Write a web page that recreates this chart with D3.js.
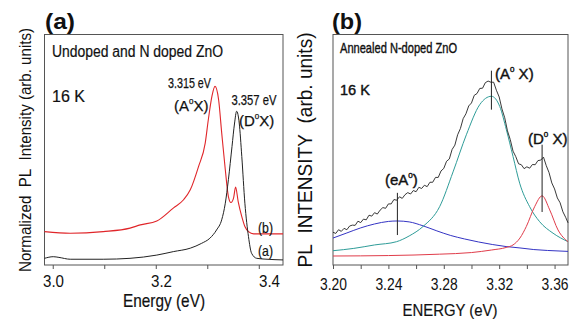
<!DOCTYPE html>
<html>
<head>
<meta charset="utf-8">
<script src="https://cdn.jsdelivr.net/npm/d3@7/dist/d3.min.js"></script>
<style>
  body { margin: 0; background: #fff; }
  svg { display: block; font-family: "Liberation Sans", Arial, sans-serif; }
</style>
</head>
<body>
<svg id="chart" width="577" height="322"></svg>
<script>
// ---- panel (a): undoped (a) and N doped (b) ZnO, 16 K ----
const energyUndoped = [2.984, 3.001, 3.012, 3.034, 3.098, 3.150, 3.202, 3.234, 3.267, 3.289, 3.305, 3.318,
  3.328, 3.335, 3.341, 3.348, 3.353, 3.357, 3.362, 3.367, 3.373, 3.380, 3.386, 3.396, 3.416, 3.447];
const intensityUndoped = [2.9, 3.6, 3.3, 2.5, 2.5, 2.9, 4.3, 5.8, 7.3, 9.4, 11.6, 15.2,
  19.6, 26.8, 37.0, 51.4, 61.6, 66.7, 61.6, 47.1, 26.8, 12.3, 5.1, 2.9, 2.5, 2.2];

const energyDoped = [2.984, 3.034, 3.098, 3.150, 3.170, 3.202, 3.234, 3.254, 3.267, 3.283, 3.296, 3.302,
  3.309, 3.315, 3.322, 3.328, 3.335, 3.341, 3.346, 3.351, 3.355, 3.360, 3.367, 3.373, 3.380, 3.390, 3.447];
const intensityDoped = [14.5, 13.8, 14.5, 16.0, 17.4, 19.1, 24.7, 28.3, 32.6, 42.7, 52.9, 63.0,
  73.2, 77.5, 71.7, 57.3, 41.3, 29.7, 27.1, 29.0, 33.8, 27.5, 21.0, 16.7, 14.5, 13.5, 13.5];

const ticksA = [3.0, 3.1, 3.2, 3.3, 3.4];
const tickLabelsA = [3.0, 3.2, 3.4];

// ---- panel (b): annealed N-doped ZnO, measured spectrum + fitted components ----
const energyMeasured = [3.200, 3.202, 3.204, 3.206, 3.208, 3.210, 3.212, 3.214, 3.216, 3.218,
  3.220, 3.222, 3.224, 3.226, 3.228, 3.230, 3.232, 3.234, 3.236, 3.238,
  3.240, 3.242, 3.244, 3.246, 3.248, 3.250, 3.252, 3.254, 3.256, 3.258,
  3.260, 3.262, 3.264, 3.266, 3.268, 3.270, 3.272, 3.274, 3.276, 3.278,
  3.280, 3.282, 3.284, 3.286, 3.288, 3.290, 3.292, 3.294, 3.296, 3.298,
  3.300, 3.302, 3.304, 3.306, 3.308, 3.310, 3.312, 3.314, 3.316, 3.318,
  3.320, 3.322, 3.324, 3.326, 3.328, 3.330, 3.332, 3.334, 3.336, 3.338,
  3.340, 3.342, 3.344, 3.346, 3.348, 3.350, 3.352, 3.354, 3.356, 3.358,
  3.360, 3.362, 3.364, 3.366, 3.368, 3.3697];
const intensityMeasured = [14.2, 13.7, 15.3, 14.6, 15.9, 15.3, 16.9, 17.3, 17.2, 19.0,
  18.4, 19.9, 19.6, 21.6, 21.2, 22.7, 22.1, 23.8, 24.9, 24.6,
  26.5, 26.5, 28.4, 28.1, 29.6, 28.9, 30.5, 31.4, 30.8, 32.3,
  31.8, 33.7, 33.2, 34.6, 34.0, 35.9, 35.9, 38.0, 38.0, 40.8,
  41.9, 45.0, 46.0, 50.1, 52.0, 56.5, 59.2, 63.5, 65.6, 69.0,
  70.3, 73.6, 74.4, 76.6, 76.7, 79.1, 79.8, 79.3, 79.3, 75.8,
  72.9, 67.7, 63.9, 58.2, 54.4, 49.4, 47.0, 43.9, 43.5, 41.8,
  42.6, 42.0, 43.6, 43.5, 45.3, 45.5, 46.8, 43.1, 40.1, 35.6,
  33.0, 29.1, 27.0, 23.1, 20.7, 18.3];

const energyEA = [3.200, 3.210, 3.220, 3.230, 3.240, 3.2465, 3.255, 3.265, 3.275, 3.285, 3.295, 3.305,
  3.315, 3.325, 3.335, 3.345, 3.355, 3.3697];
const intensityEA = [11.7, 13.9, 16.1, 17.8, 18.9, 19.1, 18.7, 17.0, 14.8, 12.8, 11.3, 10.0,
  8.9, 8.0, 7.4, 6.7, 6.3, 5.9];

const energyAX = [3.200, 3.215, 3.230, 3.2458, 3.255, 3.265, 3.277, 3.2867, 3.2963, 3.306, 3.3144, 3.3204,
  3.3252, 3.330, 3.3348, 3.342, 3.3492, 3.3589, 3.3697];
const intensityAX = [6.2, 7.2, 8.7, 10.1, 12.6, 16.7, 25.3, 40.4, 56.5, 69.6, 73.2, 68.8,
  58.7, 47.1, 35.5, 25.3, 18.8, 13.8, 10.1];

const energyDX = [3.200, 3.240, 3.277, 3.300, 3.3144, 3.325, 3.330, 3.335, 3.3396, 3.3456, 3.351, 3.3565,
  3.3625, 3.3697];
const intensityDX = [3.9, 4.1, 4.7, 5.4, 6.5, 7.6, 8.7, 11.7, 16.7, 25.3, 30.0, 23.9,
  15.2, 10.1];

const ticksB = [3.20, 3.22, 3.24, 3.26, 3.28, 3.30, 3.32, 3.34, 3.36];
const tickLabelsB = [3.20, 3.24, 3.28, 3.32, 3.36];

// peak markers in (b): energy, bottom, top (intensity units)
const markerEnergy = [3.2465, 3.3144, 3.351];
const markerLow = [13.0, 67.4, 23.0];
const markerHigh = [31.3, 84.3, 52.2];

const svg = d3.select('#chart');

function zip(xs, ys) {
  return xs.map((x, i) => [x, ys[i]]);
}

// text helper; html allows the small raised "0"
function label(x, y, html, size, len, opts = {}) {
  const t = svg.append('text')
    .attr('x', x)
    .attr('y', y)
    .attr('font-size', size)
    .attr('fill', '#111')
    .html(html);
  if (len) t.attr('textLength', len).attr('lengthAdjust', 'spacingAndGlyphs');
  if (opts.bold) t.attr('font-weight', 'bold');
  if (opts.anchor) t.attr('text-anchor', opts.anchor);
  if (opts.rotate) t.attr('transform', `rotate(-90,${x},${y})`);
  if (opts.thick) t.attr('stroke', '#111').attr('stroke-width', opts.thick);
  return t;
}

const sup = (s) => `<tspan dy="-7" font-size="8">${s}</tspan>`;
const unsup = (s) => `<tspan dy="7">${s}</tspan>`;

// ------------------------------------------------ panel (a)
const xA = d3.scaleLinear().domain([2.984, 3.447]).range([44.5, 283]);
const yA = d3.scaleLinear().domain([0, 100]).range([265, 34.5]);
// the printed tick numbers sit a little off the tick marks in the original
const xLabelA = d3.scaleLinear().domain([3.0, 3.4]).range([53, 269]);

const gA = svg.append('g');
gA.append('rect')
  .attr('x', 44.5).attr('y', 34.5)
  .attr('width', 283 - 44.5).attr('height', 265 - 34.5)
  .attr('fill', 'none').attr('stroke', '#555').attr('stroke-width', 1);

gA.append('g')
  .attr('transform', 'translate(0,265)')
  .call(d3.axisBottom(xA).tickValues(ticksA).tickSize(4).tickFormat(''))
  .call(g => g.select('.domain').remove())
  .call(g => g.selectAll('line').attr('stroke', '#555'));

gA.append('g')
  .attr('transform', 'translate(0,265)')
  .call(d3.axisBottom(xLabelA).tickValues(tickLabelsA).tickSize(0).tickPadding(10).tickFormat(d3.format('.1f')))
  .call(g => g.select('.domain').remove())
  .call(g => g.selectAll('text')
    .attr('font-size', 17)
    .attr('font-family', '"Liberation Sans", Arial, sans-serif')
    .attr('fill', '#111')
    .attr('textLength', 21)
    .attr('lengthAdjust', 'spacingAndGlyphs'));

const lineA = d3.line()
  .x(d => xA(d[0]))
  .y(d => yA(d[1]))
  .curve(d3.curveMonotoneX);

gA.append('path')
  .datum(zip(energyDoped, intensityDoped))
  .attr('d', lineA)
  .attr('fill', 'none')
  .attr('stroke', '#e0262a')
  .attr('stroke-width', 1.1);

gA.append('path')
  .datum(zip(energyUndoped, intensityUndoped))
  .attr('d', lineA)
  .attr('fill', 'none')
  .attr('stroke', '#222')
  .attr('stroke-width', 1);

label(45, 29, '(a)', 22, 30, { bold: true });
label(52, 57, 'Undoped and N doped ZnO', 16, 171, { thick: 0.2 });
label(52, 102, '16 K', 16, 33, { thick: 0.2 });
label(168, 88, '3.315 eV', 15, 43, { thick: 0.25 });
label(174, 111, '(A' + sup('0') + unsup('X)'), 15, null, { thick: 0.25 });
label(231.5, 105, '3.357 eV', 15, 45, { thick: 0.25 });
label(239, 126, '(D' + sup('0') + unsup('X)'), 15, null, { thick: 0.25 });
label(258, 233, '(b)', 15, 15, { thick: 0.2 });
label(258, 256, '(a)', 15, 15, { thick: 0.2 });
label(164, 307, 'Energy (eV)', 19, 82, { anchor: 'middle', thick: 0.2 });
label(31, 150, 'Normalized&#160;&#160;PL&#160;&#160;Intensity (arb. units)', 16, 244, { anchor: 'middle', rotate: true });

// ------------------------------------------------ panel (b)
const xB = d3.scaleLinear().domain([3.2, 3.3697]).range([333, 568]);
const yB = d3.scaleLinear().domain([0, 100]).range([265, 34.5]);

const gB = svg.append('g');
gB.append('rect')
  .attr('x', 333).attr('y', 34.5)
  .attr('width', 568 - 333).attr('height', 265 - 34.5)
  .attr('fill', 'none').attr('stroke', '#555').attr('stroke-width', 1);

gB.append('g')
  .attr('transform', 'translate(0,265)')
  .call(d3.axisBottom(xB).tickValues(ticksB).tickSize(4)
    .tickPadding(9)
    .tickFormat(d => tickLabelsB.some(v => Math.abs(v - d) < 1e-6) ? d3.format('.2f')(d) : ''))
  .call(g => g.select('.domain').remove())
  .call(g => g.selectAll('line').attr('stroke', '#555'))
  .call(g => g.selectAll('text')
    .attr('font-size', 17)
    .attr('font-family', '"Liberation Sans", Arial, sans-serif')
    .attr('fill', '#111')
    .filter(function() { return this.textContent !== ''; })
    .attr('textLength', 27)
    .attr('lengthAdjust', 'spacingAndGlyphs'));

const lineB = d3.line()
  .x(d => xB(d[0]))
  .y(d => yB(d[1]))
  .curve(d3.curveMonotoneX);

const fits = [
  { e: energyEA, v: intensityEA, color: '#3434c4' },
  { e: energyAX, v: intensityAX, color: '#2e9c98' },
  { e: energyDX, v: intensityDX, color: '#e03c4a' }
];

fits.forEach(f => {
  gB.append('path')
    .datum(zip(f.e, f.v))
    .attr('d', lineB)
    .attr('fill', 'none')
    .attr('stroke', f.color)
    .attr('stroke-width', 1);
});

gB.append('path')
  .datum(zip(energyMeasured, intensityMeasured))
  .attr('d', d3.line().x(d => xB(d[0])).y(d => yB(d[1])))
  .attr('fill', 'none')
  .attr('stroke', '#222')
  .attr('stroke-width', 0.9);

gB.append('g')
  .selectAll('line')
  .data(markerEnergy)
  .enter()
  .append('line')
  .attr('x1', d => xB(d))
  .attr('x2', d => xB(d))
  .attr('y1', (d, i) => yB(markerLow[i]))
  .attr('y2', (d, i) => yB(markerHigh[i]))
  .attr('stroke', '#222')
  .attr('stroke-width', 1);

label(332, 29, '(b)', 22, 30, { bold: true });
label(340, 53, 'Annealed N-doped ZnO', 15, 117, { thick: 0.4 });
label(340, 95, '16 K', 15, 30, { thick: 0.4 });
label(495, 79, '(A' + sup('0') + unsup('&#160;X)'), 15, null, { thick: 0.4 });
label(528, 144, '(D' + sup('0') + unsup('&#160;X)'), 15, null, { thick: 0.4 });
label(385, 185, '(eA' + sup('0') + unsup(')'), 15, null, { thick: 0.4 });
label(450, 316, 'ENERGY (eV)', 17, 95, { anchor: 'middle', thick: 0.2 });
label(312, 150, 'PL&#160;&#160;INTENSITY&#160;&#160;(arb. units)', 20, 235, { anchor: 'middle', rotate: true });
</script>
</body>
</html>
